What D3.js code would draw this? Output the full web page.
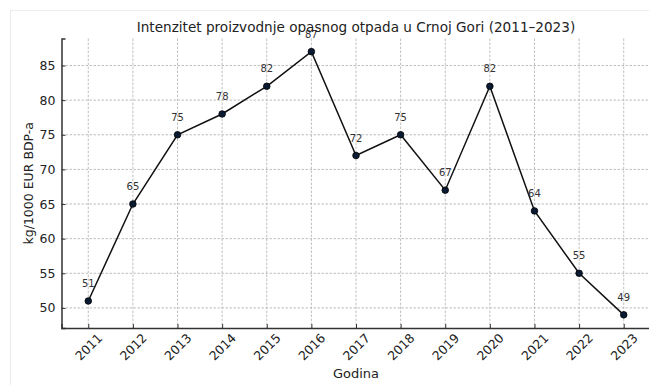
<!DOCTYPE html>
<html><head><meta charset="utf-8">
<script src="https://cdn.jsdelivr.net/npm/d3@7"></script>
<style>body{margin:0;background:#fff}svg{display:block}text{font-family:"DejaVu Sans",sans-serif}</style>
</head><body>
<script>
const years = ["2011","2012","2013","2014","2015","2016","2017","2018","2019","2020","2021","2022","2023"];
const values = [51,65,75,78,82,87,72,75,67,82,64,55,49];
const yTicks = [50,55,60,65,70,75,80,85];
const title = "Intenzitet proizvodnje opasnog otpada u Crnoj Gori (2011–2023)";
const xLabel = "Godina";
const yLabel = "kg/1000 EUR BDP-a";

(function(){
const W = 649, H = 385;
const svg = d3.select("body").append("svg").attr("width", W).attr("height", H);
svg.append("path").attr("d", `M10.5,${H} V10.5 H${W}`).attr("fill","none").attr("stroke","#ececec").attr("stroke-width",1);

const mL = 61.5, mR = 650.5, mT = 38.5, mB = 328;
const x = d3.scaleLinear().domain([2011 - 0.6, 2023 + 0.6]).range([mL, mR]);
const y = d3.scaleLinear().domain([47.1, 88.9]).range([mB, mT]);

const g = svg.append("g");
g.selectAll(".vg").data(years).enter().append("line")
  .attr("x1", d => x(+d)).attr("x2", d => x(+d)).attr("y1", mT).attr("y2", mB)
  .attr("stroke", "#b0b0b0").attr("stroke-width", 0.8).attr("stroke-dasharray", "2.5,1.5");
g.selectAll(".hg").data(yTicks).enter().append("line")
  .attr("x1", mL).attr("x2", mR).attr("y1", d => y(d)).attr("y2", d => y(d))
  .attr("stroke", "#b0b0b0").attr("stroke-width", 0.8).attr("stroke-dasharray", "2.5,1.5");

const xAxis = d3.axisBottom(x).tickValues(years.map(Number)).tickFormat(d3.format("d")).tickSize(-4).tickPadding(0);
const xa = svg.append("g").attr("transform", `translate(0,${mB})`).call(xAxis);
xa.select(".domain").attr("stroke", "#333").attr("stroke-width", 1.5);
xa.selectAll(".tick line").attr("stroke", "#333");
xa.selectAll("text").attr("font-size", 12.5).attr("fill", "#222")
  .attr("text-anchor", "middle").attr("y", 0).attr("dy", "0.35em")
  .attr("transform", "translate(0,19) rotate(-45)");

const yAxis = d3.axisLeft(y).tickValues(yTicks).tickSize(-4).tickPadding(6);
const ya = svg.append("g").attr("transform", `translate(${mL},0)`).call(yAxis);
ya.select(".domain").attr("stroke", "#333").attr("stroke-width", 1.5);
ya.selectAll(".tick line").attr("stroke", "#333");
ya.selectAll("text").attr("font-size", 12.5).attr("fill", "#222");

const pts = years.map((d, i) => [+d, values[i]]);
svg.append("path").datum(pts)
  .attr("d", d3.line().x(d => x(d[0])).y(d => y(d[1])))
  .attr("fill", "none").attr("stroke", "#111").attr("stroke-width", 1.5);
svg.selectAll(".pt").data(pts).enter().append("circle")
  .attr("cx", d => x(d[0])).attr("cy", d => y(d[1])).attr("r", 3.3)
  .attr("fill", "#0b1a33").attr("stroke", "#000").attr("stroke-width", 0.8);
svg.selectAll(".lbl").data(pts).enter().append("text")
  .attr("x", d => x(d[0])).attr("y", d => y(d[1]) - 14)
  .attr("text-anchor", "middle").attr("font-size", 10).attr("fill", "#333")
  .text(d => d[1]);

svg.append("text").attr("x", (mL + mR) / 2).attr("y", 31.5).attr("text-anchor", "middle")
  .attr("font-size", 13.6).attr("fill", "#222").text(title);
svg.append("text").attr("x", (mL + mR) / 2).attr("y", 378).attr("text-anchor", "middle")
  .attr("font-size", 13).attr("fill", "#222").text(xLabel);
svg.append("text").attr("transform", `translate(32.5,${(mT + mB) / 2}) rotate(-90)`)
  .attr("text-anchor", "middle").attr("font-size", 12.5).attr("fill", "#222").text(yLabel);
})();
</script>
</body></html>
